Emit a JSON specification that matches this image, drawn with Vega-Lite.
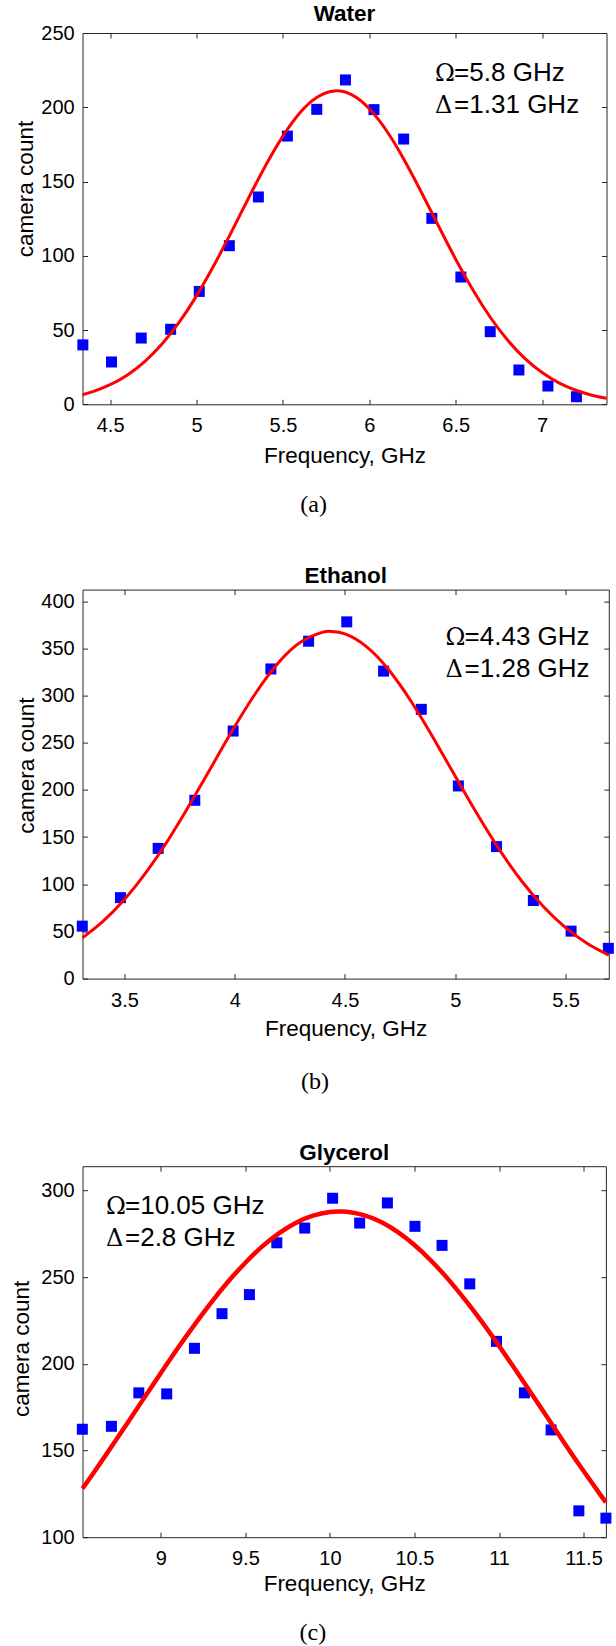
{
  "$schema": "https://vega.github.io/schema/vega-lite/v6.json",
  "padding": {"left": 9.5, "top": 2, "right": 0, "bottom": 0},
  "spacing": 47.6,
  "config": {
    "font": "Liberation Sans",
    "view": {"stroke": "#262626", "strokeWidth": 1},
    "axis": {"grid": false, "domain": false, "minExtent": 0, "maxExtent": 400, "tickColor": "#262626", "tickWidth": 1,
      "labelFont": "Liberation Sans", "labelFontSize": 20, "labelColor": "#000",
      "titleFont": "Liberation Sans", "titleFontSize": 22.5, "titleFontWeight": "normal", "titleColor": "#000"},
    "title": {"font": "Liberation Sans", "fontSize": 22.5, "fontWeight": "bold", "color": "#000"}
  },
  "datasets": {
    "water_pts": [
      {"freq": 4.342, "count": 40}, {"freq": 4.508, "count": 28.5}, {"freq": 4.68, "count": 44.6},
      {"freq": 4.85, "count": 50.5}, {"freq": 5.016, "count": 76}, {"freq": 5.19, "count": 106.8},
      {"freq": 5.358, "count": 139.6}, {"freq": 5.526, "count": 180.6}, {"freq": 5.696, "count": 198.6},
      {"freq": 5.862, "count": 218.4}, {"freq": 6.027, "count": 198.4}, {"freq": 6.199, "count": 178.6},
      {"freq": 6.362, "count": 125.2}, {"freq": 6.53, "count": 85.7}, {"freq": 6.7, "count": 48.9},
      {"freq": 6.866, "count": 23.1}, {"freq": 7.034, "count": 12.3}, {"freq": 7.199, "count": 5.1}
    ],
    "water_fit": [
      {"freq": 4.34, "fit": 6.4}, {"freq": 4.4, "fit": 8.5}, {"freq": 4.5, "fit": 13.2}, {"freq": 4.6, "fit": 19.8},
      {"freq": 4.7, "fit": 28.8}, {"freq": 4.8, "fit": 40.6}, {"freq": 4.9, "fit": 55.3}, {"freq": 5.0, "fit": 73.0},
      {"freq": 5.1, "fit": 93.4}, {"freq": 5.2, "fit": 115.6}, {"freq": 5.3, "fit": 138.6}, {"freq": 5.4, "fit": 160.8},
      {"freq": 5.5, "fit": 180.6}, {"freq": 5.6, "fit": 196.5}, {"freq": 5.7, "fit": 206.9}, {"freq": 5.8, "fit": 211},
      {"freq": 5.9, "fit": 208.3}, {"freq": 6.0, "fit": 199.0}, {"freq": 6.1, "fit": 184.2}, {"freq": 6.2, "fit": 165.0},
      {"freq": 6.3, "fit": 143.1}, {"freq": 6.4, "fit": 120.2}, {"freq": 6.5, "fit": 97.7}, {"freq": 6.6, "fit": 76.9},
      {"freq": 6.7, "fit": 58.6}, {"freq": 6.8, "fit": 43.3}, {"freq": 6.9, "fit": 30.9}, {"freq": 7.0, "fit": 21.4},
      {"freq": 7.1, "fit": 14.3}, {"freq": 7.2, "fit": 9.3}, {"freq": 7.3, "fit": 5.8}, {"freq": 7.373, "fit": 4.1}
    ],
    "water_ann": [{"freq": 6.381, "count": 217.7, "greek": ["Ω", "Δ"], "rest": ["=5.8 GHz", "=1.31 GHz"]}],
    "ethanol_pts": [
      {"freq": 3.309, "count": 55.6}, {"freq": 3.482, "count": 85.8}, {"freq": 3.653, "count": 138},
      {"freq": 3.819, "count": 189}, {"freq": 3.993, "count": 262.4}, {"freq": 4.164, "count": 328.2},
      {"freq": 4.335, "count": 357.6}, {"freq": 4.508, "count": 378.1}, {"freq": 4.675, "count": 325.9},
      {"freq": 4.846, "count": 285.4}, {"freq": 5.014, "count": 204.2}, {"freq": 5.187, "count": 139.9},
      {"freq": 5.354, "count": 82.8}, {"freq": 5.525, "count": 50.3}, {"freq": 5.694, "count": 32.1}
    ],
    "ethanol_fit": [
      {"freq": 3.31, "fit": 43.2}, {"freq": 3.4, "fit": 60.0}, {"freq": 3.5, "fit": 83.8}, {"freq": 3.6, "fit": 113.1},
      {"freq": 3.7, "fit": 147.5}, {"freq": 3.8, "fit": 186.0}, {"freq": 3.9, "fit": 226.7}, {"freq": 4.0, "fit": 267.1},
      {"freq": 4.1, "fit": 304.3}, {"freq": 4.2, "fit": 335.2}, {"freq": 4.3, "fit": 356.8}, {"freq": 4.4, "fit": 367.2},
      {"freq": 4.435, "fit": 368}, {"freq": 4.5, "fit": 365.4}, {"freq": 4.6, "fit": 351.4}, {"freq": 4.7, "fit": 326.8},
      {"freq": 4.8, "fit": 293.7}, {"freq": 4.9, "fit": 255.2}, {"freq": 5.0, "fit": 214.4}, {"freq": 5.1, "fit": 174.1},
      {"freq": 5.2, "fit": 136.7}, {"freq": 5.3, "fit": 103.7}, {"freq": 5.4, "fit": 76.1}, {"freq": 5.5, "fit": 54.0},
      {"freq": 5.6, "fit": 37.0}, {"freq": 5.696, "fit": 24.9}
    ],
    "ethanol_ann": [{"freq": 4.956, "count": 353.9, "greek": ["Ω", "Δ"], "rest": ["=4.43 GHz", "=1.28 GHz"]}],
    "glycerol_pts": [
      {"freq": 8.536, "count": 162.3}, {"freq": 8.708, "count": 164.0}, {"freq": 8.87, "count": 183.3},
      {"freq": 9.035, "count": 182.7}, {"freq": 9.199, "count": 209.0}, {"freq": 9.362, "count": 229.0},
      {"freq": 9.524, "count": 240.0}, {"freq": 9.686, "count": 269.9}, {"freq": 9.851, "count": 278.4},
      {"freq": 10.016, "count": 295.6}, {"freq": 10.176, "count": 281.3}, {"freq": 10.34, "count": 292.9},
      {"freq": 10.503, "count": 279.4}, {"freq": 10.663, "count": 268.4}, {"freq": 10.827, "count": 246.2},
      {"freq": 10.985, "count": 213.0}, {"freq": 11.15, "count": 183.3}, {"freq": 11.308, "count": 161.9},
      {"freq": 11.472, "count": 115.2}, {"freq": 11.632, "count": 111.0}
    ],
    "glycerol_fit": [
      {"freq": 8.537, "fit": 128.1}, {"freq": 8.6, "fit": 136.8}, {"freq": 8.7, "fit": 151.0}, {"freq": 8.8, "fit": 165.5},
      {"freq": 8.9, "fit": 180.2}, {"freq": 9.0, "fit": 194.7}, {"freq": 9.1, "fit": 209.0}, {"freq": 9.2, "fit": 222.7},
      {"freq": 9.3, "fit": 235.7}, {"freq": 9.4, "fit": 247.7}, {"freq": 9.5, "fit": 258.4}, {"freq": 9.6, "fit": 267.8},
      {"freq": 9.7, "fit": 275.5}, {"freq": 9.8, "fit": 281.5}, {"freq": 9.9, "fit": 285.6}, {"freq": 10.0, "fit": 287.7},
      {"freq": 10.055, "fit": 288}, {"freq": 10.1, "fit": 287.8}, {"freq": 10.2, "fit": 285.9}, {"freq": 10.3, "fit": 282.0},
      {"freq": 10.4, "fit": 276.2}, {"freq": 10.5, "fit": 268.6}, {"freq": 10.6, "fit": 259.4}, {"freq": 10.7, "fit": 248.8},
      {"freq": 10.8, "fit": 236.9}, {"freq": 10.9, "fit": 224.1}, {"freq": 11.0, "fit": 210.4}, {"freq": 11.1, "fit": 196.2},
      {"freq": 11.2, "fit": 181.6}, {"freq": 11.3, "fit": 167.0}, {"freq": 11.4, "fit": 152.4}, {"freq": 11.5, "fit": 138.2},
      {"freq": 11.6, "fit": 124.4}, {"freq": 11.632, "fit": 120.1}
    ],
    "glycerol_ann": [{"freq": 8.676, "count": 286.7, "greek": ["Ω", "Δ"], "rest": ["=10.05 GHz", "=2.8 GHz"]}]
  },
  "vconcat": [
    {
      "title": {"text": "(a)", "orient": "bottom", "offset": 44, "baseline": "alphabetic", "frame": "bounds", "anchor": "middle", "font": "Liberation Serif", "fontSize": 24, "fontWeight": "normal"},
      "vconcat": [
        {
          "width": 524, "height": 371.3,
          "title": {"text": "Water", "offset": -20.6, "baseline": "alphabetic", "frame": "group", "anchor": "middle"},
          "resolve": {"axis": {"x": "independent", "y": "independent"}},
          "layer": [
            {
              "data": {"name": "water_pts"},
              "mark": {"type": "point", "shape": "square", "filled": true, "size": 121, "color": "#0000FF", "opacity": 1},
              "encoding": {
                "x": {"field": "freq", "type": "quantitative", "scale": {"domain": [4.34, 7.373], "nice": false, "zero": false},
                  "axis": {"values": [4.5, 5, 5.5, 6, 6.5, 7], "format": "~g", "ticks": false, "tickSize": 0, "title": "Frequency, GHz", "titleY": 58.4, "titleBaseline": "alphabetic", "labelBaseline": "alphabetic", "labelPadding": 27.5}},
                "y": {"field": "count", "type": "quantitative", "scale": {"domain": [0, 250], "nice": false, "zero": false},
                  "axis": {"values": [0, 50, 100, 150, 200, 250], "ticks": false, "tickSize": 0, "title": "camera count", "titleX": -49.9, "titleY": 155.5, "titleBaseline": "alphabetic", "titleAlign": "center", "labelPadding": 8.3}}
              }
            },
            {
              "data": {"name": "water_fit"},
              "mark": {"type": "line", "color": "#FF0000", "strokeWidth": 3, "interpolate": "natural"},
              "encoding": {
                "x": {"field": "freq", "type": "quantitative", "axis": {"orient": "top", "labels": false, "title": null, "tickSize": -5, "values": [4.5, 5, 5.5, 6, 6.5, 7]}},
                "y": {"field": "fit", "type": "quantitative", "axis": {"orient": "right", "labels": false, "title": null, "tickSize": -5, "values": [0, 50, 100, 150, 200, 250]}}
              }
            },
            {
              "data": {"name": "water_ann"},
              "mark": {"type": "text", "font": "DejaVu Serif", "fontSize": 24, "align": "left", "baseline": "alphabetic", "lineHeight": 32.5, "color": "#000"},
              "encoding": {
                "x": {"field": "freq", "type": "quantitative", "axis": {"orient": "bottom", "labels": false, "title": null, "tickSize": -5, "values": [4.5, 5, 5.5, 6, 6.5, 7]}},
                "y": {"field": "count", "type": "quantitative", "axis": {"orient": "left", "labels": false, "title": null, "tickSize": -5, "values": [0, 50, 100, 150, 200, 250]}},
                "text": {"field": "greek"}
              }
            },
            {
              "data": {"name": "water_ann"},
              "mark": {"type": "text", "font": "Liberation Sans", "fontSize": 26, "align": "left", "baseline": "alphabetic", "lineHeight": 32.5, "dx": 19, "color": "#000"},
              "encoding": {
                "x": {"field": "freq", "type": "quantitative", "axis": null},
                "y": {"field": "count", "type": "quantitative", "axis": null},
                "text": {"field": "rest"}
              }
            }
          ]
        }
      ]
    },
    {
      "title": {"text": "(b)", "orient": "bottom", "offset": 48.4, "baseline": "alphabetic", "frame": "bounds", "anchor": "middle", "font": "Liberation Serif", "fontSize": 24, "fontWeight": "normal"},
      "vconcat": [
        {
          "width": 526.3, "height": 389,
          "title": {"text": "Ethanol", "offset": -16.8, "baseline": "alphabetic", "frame": "group", "anchor": "middle"},
          "resolve": {"axis": {"x": "independent", "y": "independent"}},
          "layer": [
            {
              "data": {"name": "ethanol_pts"},
              "mark": {"type": "point", "shape": "square", "filled": true, "size": 121, "color": "#0000FF", "opacity": 1},
              "encoding": {
                "x": {"field": "freq", "type": "quantitative", "scale": {"domain": [3.31, 5.696], "nice": false, "zero": false},
                  "axis": {"values": [3.5, 4, 4.5, 5, 5.5], "format": "~g", "ticks": false, "tickSize": 0, "title": "Frequency, GHz", "titleY": 56.6, "titleBaseline": "alphabetic", "labelBaseline": "alphabetic", "labelPadding": 27.5}},
                "y": {"field": "count", "type": "quantitative", "scale": {"domain": [0, 412.3], "nice": false, "zero": false},
                  "axis": {"values": [0, 50, 100, 150, 200, 250, 300, 350, 400], "ticks": false, "tickSize": 0, "title": "camera count", "titleX": -49.1, "titleY": 175.6, "titleBaseline": "alphabetic", "titleAlign": "center", "labelPadding": 8.3}}
              }
            },
            {
              "data": {"name": "ethanol_fit"},
              "mark": {"type": "line", "color": "#FF0000", "strokeWidth": 3, "interpolate": "natural"},
              "encoding": {
                "x": {"field": "freq", "type": "quantitative", "axis": {"orient": "top", "labels": false, "title": null, "tickSize": -5, "values": [3.5, 4, 4.5, 5, 5.5]}},
                "y": {"field": "fit", "type": "quantitative", "axis": {"orient": "right", "labels": false, "title": null, "tickSize": -5, "values": [0, 50, 100, 150, 200, 250, 300, 350, 400]}}
              }
            },
            {
              "data": {"name": "ethanol_ann"},
              "mark": {"type": "text", "font": "DejaVu Serif", "fontSize": 24, "align": "left", "baseline": "alphabetic", "lineHeight": 32.5, "color": "#000"},
              "encoding": {
                "x": {"field": "freq", "type": "quantitative", "axis": {"orient": "bottom", "labels": false, "title": null, "tickSize": -5, "values": [3.5, 4, 4.5, 5, 5.5]}},
                "y": {"field": "count", "type": "quantitative", "axis": {"orient": "left", "labels": false, "title": null, "tickSize": -5, "values": [0, 50, 100, 150, 200, 250, 300, 350, 400]}},
                "text": {"field": "greek"}
              }
            },
            {
              "data": {"name": "ethanol_ann"},
              "mark": {"type": "text", "font": "Liberation Sans", "fontSize": 26, "align": "left", "baseline": "alphabetic", "lineHeight": 32.5, "dx": 19, "color": "#000"},
              "encoding": {
                "x": {"field": "freq", "type": "quantitative", "axis": null},
                "y": {"field": "count", "type": "quantitative", "axis": null},
                "text": {"field": "rest"}
              }
            }
          ]
        }
      ]
    },
    {
      "title": {"text": "(c)", "orient": "bottom", "offset": 44, "baseline": "alphabetic", "frame": "bounds", "anchor": "middle", "font": "Liberation Serif", "fontSize": 24, "fontWeight": "normal"},
      "vconcat": [
        {
          "width": 523.4, "height": 371,
          "title": {"text": "Glycerol", "offset": -17, "baseline": "alphabetic", "frame": "group", "anchor": "middle"},
          "resolve": {"axis": {"x": "independent", "y": "independent"}},
          "layer": [
            {
              "data": {"name": "glycerol_pts"},
              "mark": {"type": "point", "shape": "square", "filled": true, "size": 121, "color": "#0000FF", "opacity": 1},
              "encoding": {
                "x": {"field": "freq", "type": "quantitative", "scale": {"domain": [8.537, 11.632], "nice": false, "zero": false},
                  "axis": {"values": [9, 9.5, 10, 10.5, 11, 11.5], "format": "~g", "ticks": false, "tickSize": 0, "title": "Frequency, GHz", "titleY": 53.4, "titleBaseline": "alphabetic", "labelBaseline": "alphabetic", "labelPadding": 27}},
                "y": {"field": "count", "type": "quantitative", "scale": {"domain": [100, 314.1], "nice": false, "zero": false},
                  "axis": {"values": [100, 150, 200, 250, 300], "ticks": false, "tickSize": 0, "title": "camera count", "titleX": -53.8, "titleY": 182.2, "titleBaseline": "alphabetic", "titleAlign": "center", "labelPadding": 8.3}}
              }
            },
            {
              "data": {"name": "glycerol_fit"},
              "mark": {"type": "line", "color": "#FF0000", "strokeWidth": 4.5, "interpolate": "natural"},
              "encoding": {
                "x": {"field": "freq", "type": "quantitative", "axis": {"orient": "top", "labels": false, "title": null, "tickSize": -5, "values": [9, 9.5, 10, 10.5, 11, 11.5]}},
                "y": {"field": "fit", "type": "quantitative", "axis": {"orient": "right", "labels": false, "title": null, "tickSize": -5, "values": [100, 150, 200, 250, 300]}}
              }
            },
            {
              "data": {"name": "glycerol_ann"},
              "mark": {"type": "text", "font": "DejaVu Serif", "fontSize": 24, "align": "left", "baseline": "alphabetic", "lineHeight": 32.5, "color": "#000"},
              "encoding": {
                "x": {"field": "freq", "type": "quantitative", "axis": {"orient": "bottom", "labels": false, "title": null, "tickSize": -5, "values": [9, 9.5, 10, 10.5, 11, 11.5]}},
                "y": {"field": "count", "type": "quantitative", "axis": {"orient": "left", "labels": false, "title": null, "tickSize": -5, "values": [100, 150, 200, 250, 300]}},
                "text": {"field": "greek"}
              }
            },
            {
              "data": {"name": "glycerol_ann"},
              "mark": {"type": "text", "font": "Liberation Sans", "fontSize": 26, "align": "left", "baseline": "alphabetic", "lineHeight": 32.5, "dx": 19, "color": "#000"},
              "encoding": {
                "x": {"field": "freq", "type": "quantitative", "axis": null},
                "y": {"field": "count", "type": "quantitative", "axis": null},
                "text": {"field": "rest"}
              }
            }
          ]
        }
      ]
    }
  ]
}
